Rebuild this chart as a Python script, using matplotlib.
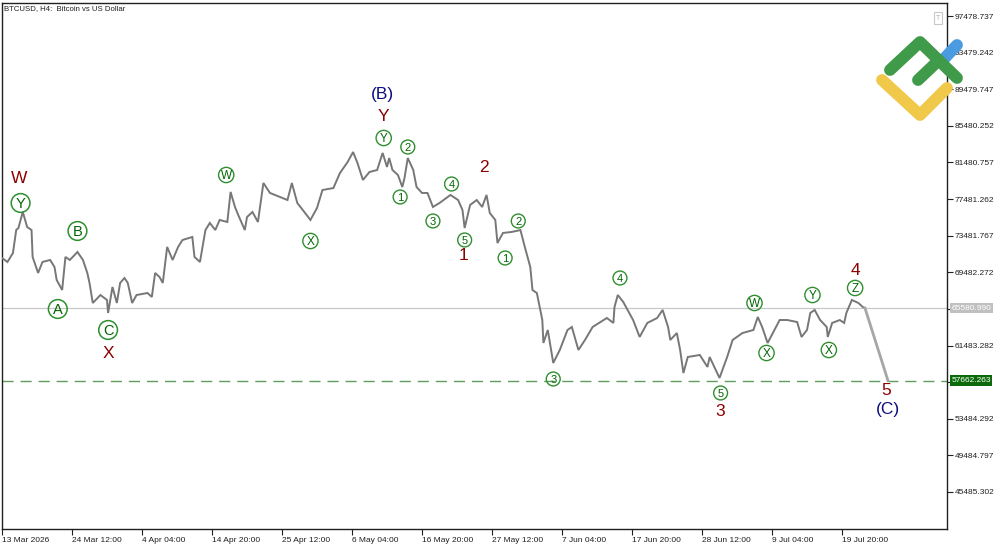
import matplotlib
matplotlib.use('Agg')
import matplotlib.pyplot as plt
import matplotlib.transforms as mtransforms
from matplotlib.lines import Line2D
from matplotlib.patches import Rectangle

# ---------------- data (H4 bar index from 13 Mar 2026 20:00, price) ----------------
bars = [0, 5, 10, 13, 15, 19, 23, 27, 28, 33, 37, 44, 48, 50, 55, 58, 62, 69, 74, 78,
        80, 83, 90, 96, 97, 101, 105, 108, 112, 115, 119, 123, 133, 137, 140, 144, 147,
        151, 156, 161, 165, 174, 176, 181, 186, 190, 195, 199, 206, 209, 213, 216, 222,
        224, 229, 234, 239, 245, 254, 261, 265, 270, 275, 282, 288, 293, 303, 309, 316,
        321, 325, 330, 336, 343, 348, 352, 354, 357, 362, 366, 368, 371, 376, 379, 384,
        389, 394, 400, 410, 417, 421, 423, 428, 434, 439, 443, 446, 451, 453, 458, 466,
        474, 478, 483, 485, 489, 494, 495, 499, 504, 510, 517, 521, 527, 533, 540, 553,
        559, 560, 563, 568, 572, 577, 583, 590, 599, 604, 609, 611, 617, 620, 623, 627,
        638, 645, 647, 656, 663, 668, 677, 687, 691, 695, 700, 711, 718, 727, 731, 736,
        739, 743, 748, 754, 755, 759, 766, 770, 772, 777, 783, 787, 789]
prices = [71050, 70610, 71590, 74100, 74320, 76070, 74430, 74100, 71160, 69410, 70610,
          70830, 70060, 68640, 67550, 71160, 70830, 71700, 70830, 69410, 68320, 66130,
          67000, 66460, 65040, 67880, 66130, 68320, 68860, 68320, 66130, 67000, 67220,
          66790, 69410, 68970, 68320, 72250, 70830, 72250, 73010, 73340, 71160, 70610,
          74100, 74870, 74100, 75200, 74980, 78260, 76620, 75740, 74100, 75520, 76070,
          74980, 79240, 78150, 77710, 77380, 79240, 77050, 76290, 75200, 76510, 78470,
          78690, 80330, 81530, 82620, 81420, 79570, 80440, 80660, 82520, 80990, 81970,
          80660, 80110, 78800, 79780, 81970, 80660, 78800, 78150, 78150, 76620, 77050,
          77930, 77380, 76290, 74320, 76840, 77380, 76620, 77930, 75960, 75200, 72680,
          73780, 73890, 74100, 72250, 70060, 67550, 67220, 64270, 61760, 63180, 59580,
          61000, 63180, 63510, 61000, 62090, 63510, 64490, 63950, 65690, 67000, 66240,
          65370, 64270, 62420, 63950, 64490, 65370, 63510, 62090, 62850, 61000, 58480,
          60230, 60450, 59140, 60230, 57940, 60230, 62090, 62850, 63180, 64600, 63510,
          61760, 64270, 64270, 64050, 62420, 63180, 65040, 65370, 64270, 63510, 62420,
          63950, 64270, 63950, 65040, 66460, 66130, 65690, 65580.99]

proj_bars = [789, 810]
proj_prices = [65580.99, 57662.263]
last_price = 65580.990
target_price = 57662.263

xtick_bars = [0, 64, 128, 192, 256, 320, 384, 448, 512, 576, 640, 704, 768]
xtick_labels = ['13 Mar 2026', '24 Mar 12:00', '4 Apr 04:00', '14 Apr 20:00',
                '25 Apr 12:00', '6 May 04:00', '16 May 20:00', '27 May 12:00',
                '7 Jun 04:00', '17 Jun 20:00', '28 Jun 12:00', '9 Jul 04:00',
                '19 Jul 20:00']
ytick_values = [97478.737, 93479.242, 89479.747, 85480.252, 81480.757, 77481.262,
                73481.767, 69482.272, 65482.777, 61483.282, 57483.787, 53484.292,
                49484.797, 45485.302]
ytick_labels = ['97478.737', '93479.242', '89479.747', '85480.252', '81480.757',
                '77481.262', '73481.767', '69482.272', '', '61483.282', '',
                '53484.292', '49484.797', '45485.302']

# plain wave labels
red_text = ['W', 'X', 'Y', '2', '1', '3', '4', '5']
red_bars = [16, 97, 349, 441, 422, 657, 780, 808]
red_prices = [79675, 60560, 86556, 80876, 71264, 54224, 69626, 56518]
navy_text = ['(B)', '(C)']
navy_bars = [348, 810]
navy_prices = [88959, 54443]

# circled wave labels
big_text = ['Y', 'B', 'A', 'C']
big_bars = [17, 69, 51, 97]
big_prices = [77053, 73995, 65474, 63181]
mid_text = ['W', 'X', 'Y', 'W', 'X', 'Y', 'X', 'Z']
mid_bars = [205, 282, 349, 688, 699, 741, 756, 780]
mid_prices = [80112, 72902, 84153, 66130, 60669, 67004, 60996, 67769]
num_text = ['1', '2', '3', '4', '5', '1', '2', '3', '4', '5']
num_bars = [364, 371, 394, 411, 423, 460, 472, 504, 565, 657]
num_prices = [77709, 83170, 75087, 79129, 73012, 71046, 75087, 57829, 68861, 56300]

# ---------------- figure ----------------
plt.rcParams['font.family'] = ['Liberation Sans', 'DejaVu Sans']
fig = plt.figure(figsize=(10, 5.45), dpi=100)
ax = fig.add_axes([0.002, 0.0294, 0.945, 0.9651])
ax.set_xlim(0, 864)
ax.set_ylim(41444, 98900)

for s in ax.spines.values():
    s.set_color('#202020')
    s.set_linewidth(1.0)

ax.axhline(last_price, color='#c8c8c8', lw=0.9, zorder=1)
ax.axhline(target_price, color='#5e9e5e', lw=1.0, dashes=(8, 5), zorder=1)

ax.plot(bars, prices, color='#777777', lw=1.4, zorder=3, solid_joinstyle='miter')
ax.plot(proj_bars, proj_prices, color='#a6a6a6', lw=2.0, zorder=3)

ax.set_xticks(xtick_bars)
ax.set_xticklabels(xtick_labels)
for lab in ax.get_xticklabels():
    lab.set_ha('left')
ax.tick_params(axis='x', direction='out', length=4, labelsize=6, pad=1.5,
               colors='#202020')

ax.yaxis.tick_right()
ax.set_yticks(ytick_values)
ax.set_yticklabels(ytick_labels)
ax.tick_params(axis='y', direction='out', length=4, labelsize=6, pad=1.5,
               colors='#202020')

tr = mtransforms.blended_transform_factory(ax.transAxes, ax.transData)
ax.text(1.0045, last_price, '65580.990', transform=tr, fontsize=6, color='white',
        va='center', ha='left', zorder=10, clip_on=False,
        bbox=dict(boxstyle='square,pad=0.2', fc='#c0c0c0', ec='none'))
ax.text(1.0045, target_price, '57662.263', transform=tr, fontsize=6, color='white',
        va='center', ha='left', zorder=10, clip_on=False,
        bbox=dict(boxstyle='square,pad=0.2', fc='#0b6b0b', ec='none'))

ax.text(0.002, 0.996, 'BTCUSD, H4:  Bitcoin vs US Dollar', transform=ax.transAxes,
        fontsize=5.6, color='#202020', va='top', ha='left')

# plain labels
for t, b, p in zip(red_text, red_bars, red_prices):
    ax.text(b, p, t, color='#8b0000', fontsize=12.5, ha='center', va='center', zorder=6)
for t, b, p in zip(navy_text, navy_bars, navy_prices):
    ax.text(b, p, t, color='#0d0d80', fontsize=12.5, ha='center', va='center', zorder=6)

# circled labels
green_edge = '#2f8f2f'
green_txt = '#006400'
ax.scatter(big_bars, big_prices, s=13.5 ** 2, facecolors='none', edgecolors=green_edge,
           linewidths=1.1, zorder=5)
for t, b, p in zip(big_text, big_bars, big_prices):
    ax.text(b, p, t, color=green_txt, fontsize=10.5, ha='center', va='center_baseline', zorder=6)
ax.scatter(mid_bars, mid_prices, s=11 ** 2, facecolors='none', edgecolors=green_edge,
           linewidths=1.0, zorder=5)
for t, b, p in zip(mid_text, mid_bars, mid_prices):
    ax.text(b, p, t, color=green_txt, fontsize=8.5, ha='center', va='center_baseline', zorder=6)
ax.scatter(num_bars, num_prices, s=10 ** 2, facecolors='none', edgecolors=green_edge,
           linewidths=1.0, zorder=5)
for t, b, p in zip(num_text, num_bars, num_prices):
    ax.text(b, p, t, color=green_txt, fontsize=8, ha='center', va='center_baseline', zorder=6)

# small "T" button
fig.patches.append(Rectangle((934 / 1000, 1 - 24 / 545), 8 / 1000, 12 / 545,
                             transform=fig.transFigure, fc='white', ec='#c8c8c8', lw=0.8))
fig.text(938 / 1000, 1 - 18 / 545, 'T', fontsize=5, color='#b0b0b0', ha='center', va='center')

# logo
def fpts(pts):
    return [p[0] / 1000 for p in pts], [1 - p[1] / 545 for p in pts]

logo = [([(882, 80), (920, 115), (947, 88)], '#f0c84a'),
        ([(942, 61), (957, 45)], '#4a9be0'),
        ([(890, 70), (920, 42), (957, 78)], '#3f9a4a'),
        ([(918, 80), (937, 62)], '#3f9a4a')]
for pts, col in logo:
    xs, ys = fpts(pts)
    fig.lines.append(Line2D(xs, ys, transform=fig.transFigure, color=col, lw=8.5,
                            solid_capstyle='round', solid_joinstyle='round', zorder=20))

fig.savefig('out.png', dpi=100)
